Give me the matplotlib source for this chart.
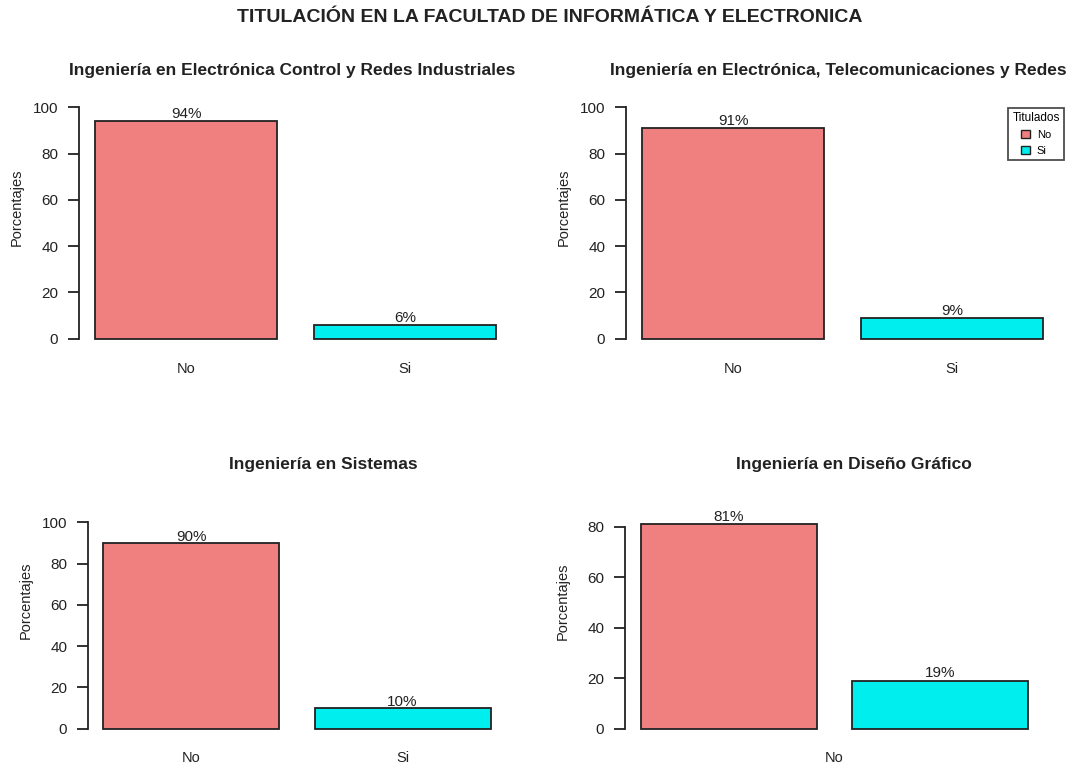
import matplotlib
matplotlib.use("Agg")
import matplotlib.pyplot as plt
from matplotlib.patches import Patch

plt.rcParams['font.family'] = ['Liberation Sans', 'DejaVu Sans']

titulo = "TITULACIÓN EN LA FACULTAD DE INFORMÁTICA Y ELECTRONICA"
carreras = ["Ingeniería en Electrónica Control y Redes Industriales",
            "Ingeniería en Electrónica, Telecomunicaciones y Redes",
            "Ingeniería en Sistemas",
            "Ingeniería en Diseño Gráfico"]
categorias = ["No", "Si"]
porc_no = [94, 91, 90, 81]
porc_si = [6, 9, 10, 19]
ymax = [100, 100, 100, 81]
colores = ["#F08080", "#00EEEE"]

W, H = 1073, 766
fig = plt.figure(figsize=(W / 100, H / 100), dpi=100)

# plot regions in pixels: left, right, top, bottom
regiones = [(79, 512, 98, 348), (626, 1059, 98, 348),
            (88, 506, 514, 737), (625, 1044, 516, 737)]
# title centres in pixels
pos_tit = [(292, 70), (838, 70), (323, 465), (854, 465)]
ylab_y = [0.564, 0.564, 0.614, 0.614]

fig.text(550 / W, 1 - 18 / H, titulo, ha="center", va="center",
         fontsize=14, fontweight="bold", color="#222222")

for i in range(4):
    l, r, t, b = regiones[i]
    ax = fig.add_axes([l / W, 1 - b / H, (r - l) / W, (b - t) / H])
    vals = [porc_no[i], porc_si[i]]
    xs = [0.7, 1.9]
    ax.bar(xs, vals, width=1.0, color=colores, edgecolor="#222222", linewidth=1.3)
    for x, v in zip(xs, vals):
        ax.text(x, v + 3, str(v) + "%", ha="center", va="center", fontsize=11, color="#222222")
    ax.set_xlim(0.112, 2.488)
    ax.set_ylim(-0.04 * ymax[i], 1.04 * ymax[i])
    for s in ["top", "right", "bottom"]:
        ax.spines[s].set_visible(False)
    top_tick = 20 * (ymax[i] // 20)
    ax.spines["left"].set_bounds(0, top_tick)
    ax.spines["left"].set_linewidth(1.3)
    ax.spines["left"].set_color("#222222")
    ax.set_yticks(range(0, top_tick + 1, 20))
    ax.tick_params(axis="y", length=8, width=1.3, pad=7, labelsize=11, color="#222222", labelcolor="#222222")
    if i == 3:
        ax.set_xticks([1.3])
        ax.set_xticklabels(["No"])
    else:
        ax.set_xticks(xs)
        ax.set_xticklabels(categorias)
    ax.tick_params(axis="x", length=0, pad=10, labelsize=10.5, labelcolor="#222222")
    ax.set_ylabel("Porcentajes", fontsize=10.5, color="#222222")
    ax.yaxis.set_label_coords(-55 / (r - l), ylab_y[i])
    fig.text(pos_tit[i][0] / W, 1 - pos_tit[i][1] / H, carreras[i], ha="center", va="center",
             fontsize=12.5, fontweight="bold", color="#222222")
    if i == 1:
        handles = [Patch(facecolor=colores[k], edgecolor="#222222", label=categorias[k]) for k in range(2)]
        leg = ax.legend(handles=handles, title="Titulados", loc="upper left",
                        bbox_to_anchor=(1008 / W, 1 - 108 / H), bbox_transform=fig.transFigure,
                        borderaxespad=0, fontsize=8, title_fontsize=8.5, frameon=True, fancybox=False,
                        edgecolor="#222222", handlelength=0.8, handleheight=0.8,
                        handletextpad=0.6, borderpad=0.4, labelspacing=0.5)
        leg.get_frame().set_linewidth(1.3)

fig.savefig("out.png", dpi=100)
